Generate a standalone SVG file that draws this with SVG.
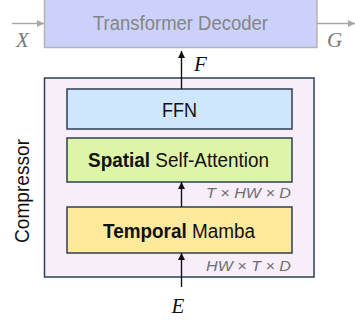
<svg xmlns="http://www.w3.org/2000/svg" width="355" height="321" viewBox="0 0 355 321">
  <style>
    .box { stroke: #2e3f50; stroke-width: 1.5; }
    .lbl { font-family: "Liberation Sans", Arial, sans-serif; font-size: 20px; fill: #111; text-anchor: middle; }
    .dim { font-family: "Liberation Sans", Arial, sans-serif; font-size: 15px; font-style: italic; fill: #6e6e6e; text-anchor: end; }
    .math { font-family: "Liberation Serif", "Times New Roman", serif; font-size: 21px; font-style: italic; fill: #111; }
    .wire { stroke: #111; stroke-width: 1.4; fill: none; }
    .gwire { stroke: #a6a6a6; stroke-width: 1.4; fill: none; }
  </style>
  <defs>
    <marker id="ah" viewBox="0 0 10 10" refX="10" refY="5" markerWidth="7" markerHeight="7" markerUnits="userSpaceOnUse" orient="auto">
      <path d="M0,0 L10,5 L0,10 z" fill="#111"/>
    </marker>
    <marker id="ahg" viewBox="0 0 10 10" refX="10" refY="5" markerWidth="7" markerHeight="7" markerUnits="userSpaceOnUse" orient="auto">
      <path d="M0,0 L10,5 L0,10 z" fill="#a6a6a6"/>
    </marker>
  </defs>

  <!-- decoder block (faded) -->
  <g id="decoder">
    <rect x="44.5" y="-5" width="272.5" height="52.5" fill="#cbd1fa" stroke="#b4b4b4" stroke-width="1.5"/>
    <text class="lbl" x="180.5" y="30" style="fill:#858585" textLength="175" lengthAdjust="spacingAndGlyphs">Transformer Decoder</text>
  </g>

  <!-- compressor container -->
  <g id="compressor">
    <rect class="box" x="44.5" y="78" width="269.5" height="199" fill="#f8eefa"/>
    <text class="lbl" x="0" y="0" transform="translate(29,191) rotate(-90)" textLength="104" lengthAdjust="spacingAndGlyphs">Compressor</text>
  </g>

  <g id="ffn">
    <rect class="box" x="67" y="89" width="225" height="40" fill="#cfe7fc"/>
    <text class="lbl" x="179.5" y="116.5" textLength="35" lengthAdjust="spacingAndGlyphs">FFN</text>
  </g>

  <g id="spatial">
    <rect class="box" x="67" y="138" width="225" height="44" fill="#dcf5a8"/>
    <text class="lbl" x="178.5" y="167.3" textLength="181" lengthAdjust="spacingAndGlyphs"><tspan font-weight="bold">Spatial</tspan> Self-Attention</text>
  </g>

  <g id="temporal">
    <rect class="box" x="67" y="207" width="225" height="46" fill="#fde99b"/>
    <text class="lbl" x="179" y="238.3" textLength="152" lengthAdjust="spacingAndGlyphs"><tspan font-weight="bold">Temporal</tspan> Mamba</text>
  </g>

  <!-- connectors -->
  <g id="connectors">
    <line class="gwire" x1="12" y1="23.5" x2="44" y2="23.5" marker-end="url(#ahg)"/>
    <line class="gwire" x1="317" y1="23.5" x2="355" y2="23.5" marker-end="url(#ahg)"/>
    <line class="wire" x1="181.5" y1="89" x2="181.5" y2="51" marker-end="url(#ah)"/>
    <line class="wire" x1="181.5" y1="207" x2="181.5" y2="182" marker-end="url(#ah)"/>
    <line class="wire" x1="181.5" y1="287" x2="181.5" y2="253" marker-end="url(#ah)"/>
  </g>

  <!-- tensor shapes and symbols -->
  <g id="labels">
    <text class="dim" x="291" y="198" textLength="85" lengthAdjust="spacingAndGlyphs">T × HW × D</text>
    <text class="dim" x="291" y="270.5" textLength="85" lengthAdjust="spacingAndGlyphs">HW × T × D</text>
    <text class="math" x="16" y="46.5" style="fill:#7a7a7a">X</text>
    <text class="math" x="327" y="47" style="fill:#7a7a7a">G</text>
    <text class="math" x="194" y="71">F</text>
    <text class="math" x="171.5" y="313">E</text>
  </g>
</svg>
